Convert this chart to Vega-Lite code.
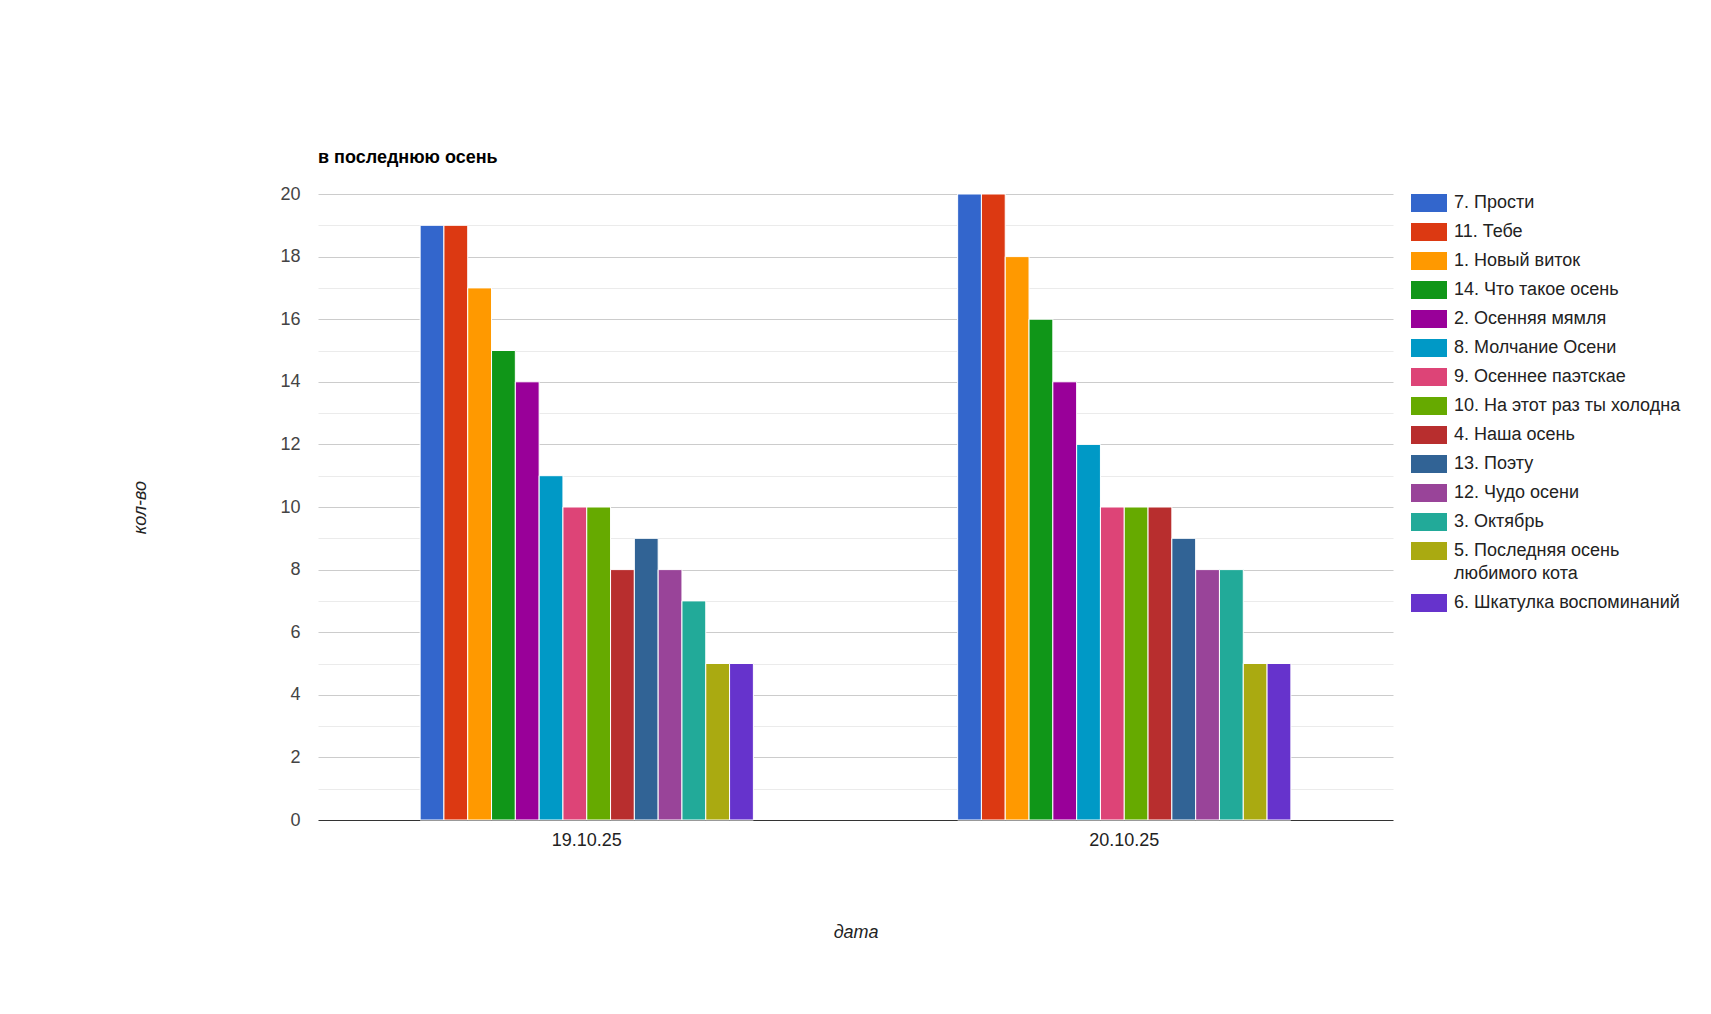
{
  "$schema": "https://vega.github.io/schema/vega-lite/v6.json",
  "width": 1075,
  "height": 626,
  "autosize": {"type": "none"},
  "padding": {"left": 318, "top": 194, "right": 318, "bottom": 194},
  "background": "white",
  "title": {
    "text": "в последнюю осень",
    "anchor": "start",
    "frame": "group",
    "font": "Liberation Sans",
    "fontSize": 18,
    "fontWeight": "bold",
    "color": "#000000",
    "offset": 18
  },
  "data": {
    "values": [
      {"date": "19.10.25", "song": "7. Прости", "count": 19},
      {"date": "19.10.25", "song": "11. Тебе", "count": 19},
      {"date": "19.10.25", "song": "1. Новый виток", "count": 17},
      {"date": "19.10.25", "song": "14. Что такое осень", "count": 15},
      {"date": "19.10.25", "song": "2. Осенняя мямля", "count": 14},
      {"date": "19.10.25", "song": "8. Молчание Осени", "count": 11},
      {"date": "19.10.25", "song": "9. Осеннее паэтскае", "count": 10},
      {"date": "19.10.25", "song": "10. На этот раз ты холодна", "count": 10},
      {"date": "19.10.25", "song": "4. Наша осень", "count": 8},
      {"date": "19.10.25", "song": "13. Поэту", "count": 9},
      {"date": "19.10.25", "song": "12. Чудо осени", "count": 8},
      {"date": "19.10.25", "song": "3. Октябрь", "count": 7},
      {"date": "19.10.25", "song": "5. Последняя осень любимого кота", "count": 5},
      {"date": "19.10.25", "song": "6. Шкатулка воспоминаний", "count": 5},
      {"date": "20.10.25", "song": "7. Прости", "count": 20},
      {"date": "20.10.25", "song": "11. Тебе", "count": 20},
      {"date": "20.10.25", "song": "1. Новый виток", "count": 18},
      {"date": "20.10.25", "song": "14. Что такое осень", "count": 16},
      {"date": "20.10.25", "song": "2. Осенняя мямля", "count": 14},
      {"date": "20.10.25", "song": "8. Молчание Осени", "count": 12},
      {"date": "20.10.25", "song": "9. Осеннее паэтскае", "count": 10},
      {"date": "20.10.25", "song": "10. На этот раз ты холодна", "count": 10},
      {"date": "20.10.25", "song": "4. Наша осень", "count": 10},
      {"date": "20.10.25", "song": "13. Поэту", "count": 9},
      {"date": "20.10.25", "song": "12. Чудо осени", "count": 8},
      {"date": "20.10.25", "song": "3. Октябрь", "count": 8},
      {"date": "20.10.25", "song": "5. Последняя осень любимого кота", "count": 5},
      {"date": "20.10.25", "song": "6. Шкатулка воспоминаний", "count": 5}
    ]
  },
  "mark": {"type": "bar", "stroke": "white", "strokeWidth": 1},
  "encoding": {
    "x": {
      "field": "date",
      "type": "nominal",
      "scale": {"paddingInner": 0.38, "paddingOuter": 0.19},
      "axis": {
        "title": "дата",
        "labelAngle": 0,
        "labelFont": "Liberation Sans",
        "labelFontSize": 18,
        "labelColor": "#222222",
        "labelPadding": 11,
        "ticks": false,
        "domain": false,
        "grid": false,
        "titleFont": "Liberation Sans",
        "titleFontSize": 18,
        "titleFontStyle": "italic",
        "titleFontWeight": "normal",
        "titleColor": "#222222",
        "titleY": 112,
        "titleBaseline": "middle"
      }
    },
    "xOffset": {
      "field": "song",
      "type": "nominal",
      "sort": ["7. Прости", "11. Тебе", "1. Новый виток", "14. Что такое осень", "2. Осенняя мямля", "8. Молчание Осени", "9. Осеннее паэтскае", "10. На этот раз ты холодна", "4. Наша осень", "13. Поэту", "12. Чудо осени", "3. Октябрь", "5. Последняя осень любимого кота", "6. Шкатулка воспоминаний"],
      "scale": {"paddingInner": 0, "paddingOuter": 0}
    },
    "y": {
      "field": "count",
      "type": "quantitative",
      "scale": {"domain": [0, 20], "nice": false},
      "axis": {
        "title": "кол-во",
        "values": [0,1,2,3,4,5,6,7,8,9,10,11,12,13,14,15,16,17,18,19,20],
        "labelExpr": "datum.value % 2 === 0 ? datum.label : ''",
        "gridColor": {"condition": [{"test": "datum.value === 0", "value": "#333333"}, {"test": "datum.value % 2 === 0", "value": "#cccccc"}], "value": "#ebebeb"},
        "ticks": false,
        "domain": false,
        "labelFont": "Liberation Sans",
        "labelFontSize": 18,
        "labelColor": "#444444",
        "labelPadding": 18,
        "titleFont": "Liberation Sans",
        "titleFontSize": 18,
        "titleFontStyle": "italic",
        "titleFontWeight": "normal",
        "titleColor": "#222222",
        "titleX": -178,
        "titleY": 313,
        "titleBaseline": "middle",
        "titleAngle": -90
      }
    },
    "color": {
      "field": "song",
      "type": "nominal",
      "sort": ["7. Прости", "11. Тебе", "1. Новый виток", "14. Что такое осень", "2. Осенняя мямля", "8. Молчание Осени", "9. Осеннее паэтскае", "10. На этот раз ты холодна", "4. Наша осень", "13. Поэту", "12. Чудо осени", "3. Октябрь", "5. Последняя осень любимого кота", "6. Шкатулка воспоминаний"],
      "scale": {"range": ["#3366cc", "#dc3912", "#ff9900", "#109618", "#990099", "#0099c6", "#dd4477", "#66aa00", "#b82e2e", "#316395", "#994499", "#22aa99", "#aaaa11", "#6633cc"]},
      "legend": {
        "title": null,
        "orient": "none",
        "legendX": 1093,
        "legendY": -9,
        "symbolType": "M-1,-0.5H1V0.5H-1Z",
        "symbolSize": 1296,
        "symbolStrokeWidth": 0,
        "symbolOpacity": 1,
        "labelFont": "Liberation Sans",
        "labelFontSize": 18,
        "labelColor": "#222222",
        "labelOffset": 7,
        "labelLimit": 400,
        "rowPadding": 2,
        "labelExpr": "datum.label === '5. Последняя осень любимого кота' ? ['5. Последняя осень', 'любимого кота'] : datum.label"
      }
    }
  },
  "config": {
    "view": {"stroke": null},
    "style": {"guide-label": {"lineHeight": 23}}
  }
}
